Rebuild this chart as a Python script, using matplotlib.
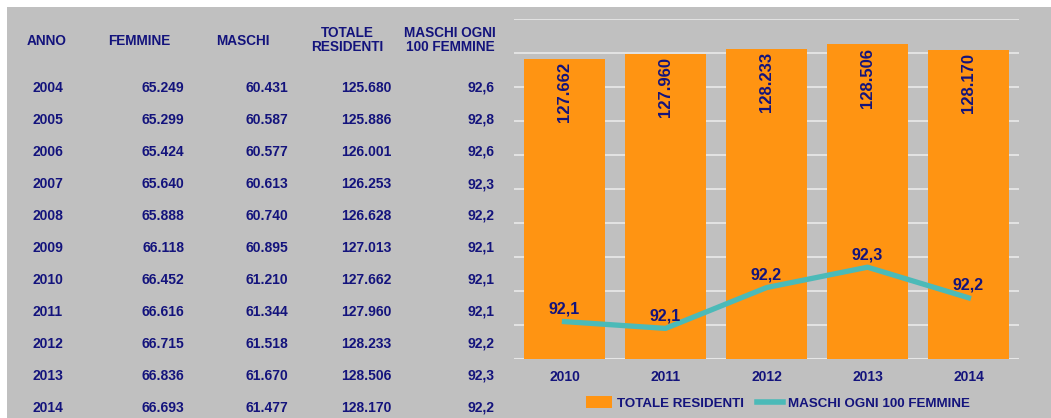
import numpy as np
import matplotlib.pyplot as plt
from matplotlib.patches import Rectangle, Patch
from matplotlib.lines import Line2D

plt.rcParams['font.family'] = ['Liberation Sans', 'DejaVu Sans']

# table data
anni = [2004, 2005, 2006, 2007, 2008, 2009, 2010, 2011, 2012, 2013, 2014]
femmine = [65249, 65299, 65424, 65640, 65888, 66118, 66452, 66616, 66715, 66836, 66693]
maschi = [60431, 60587, 60577, 60613, 60740, 60895, 61210, 61344, 61518, 61670, 61477]
totale = [125680, 125886, 126001, 126253, 126628, 127013, 127662, 127960, 128233, 128506, 128170]
rapporto = [92.6, 92.8, 92.6, 92.3, 92.2, 92.1, 92.1, 92.1, 92.2, 92.3, 92.2]

# chart data
anni_graf = ['2010', '2011', '2012', '2013', '2014']
totale_graf = [127662, 127960, 128233, 128506, 128170]
rapporto_graf = [92.11, 92.09, 92.21, 92.27, 92.18]
rapporto_lbl = ['92,1', '92,1', '92,2', '92,3', '92,2']

navy = '#13137c'
orange = '#ff9412'
teal = '#4bbab8'
gray = '#c0c0c0'

W, H = 1051, 418
fig = plt.figure(figsize=(W / 100, H / 100), dpi=100)
fig.patch.set_facecolor('white')
fig.patches.append(Rectangle((7 / W, 0), 1, 1 - 7 / H, transform=fig.transFigure,
                             facecolor=gray, edgecolor='none', zorder=-1))


def fx(x):
    return x / W


def fy(y):
    return 1 - y / H


def ita(n):
    return f"{n:,}".replace(",", ".")


# table header
hdr = dict(color=navy, fontsize=9.8, fontweight='bold', ha='center', va='center',
           linespacing=1.05)
fig.text(fx(47), fy(41), 'ANNO', **hdr)
fig.text(fx(139), fy(41), 'FEMMINE', **hdr)
fig.text(fx(243), fy(41), 'MASCHI', **hdr)
fig.text(fx(347), fy(40), 'TOTALE\nRESIDENTI', **hdr)
fig.text(fx(450), fy(40), 'MASCHI OGNI\n100 FEMMINE', **hdr)

cell = dict(color=navy, fontsize=10, fontweight='bold', va='center')
for i, a in enumerate(anni):
    y = fy(88 + i * 32)
    fig.text(fx(48), y, str(a), ha='center', **cell)
    fig.text(fx(184), y, ita(femmine[i]), ha='right', **cell)
    fig.text(fx(288), y, ita(maschi[i]), ha='right', **cell)
    fig.text(fx(391), y, ita(totale[i]), ha='right', **cell)
    fig.text(fx(494), y, f"{rapporto[i]:.1f}".replace(".", ","), ha='right', **cell)

# chart
ax = fig.add_axes([fx(514), fy(359), fx(1019) - fx(514), fy(19) - fy(359)])
ax.set_facecolor(gray)
x = np.arange(len(anni_graf))
ax.bar(x, totale_graf, width=0.8, color=orange, zorder=2)
ax.set_ylim(110000, 130000)
ax.set_yticks(np.arange(110000, 130001, 2000))
ax.set_yticklabels([])
ax.tick_params(axis='y', length=0)
ax.tick_params(axis='x', length=0, pad=8)
ax.set_xlim(-0.5, len(x) - 0.5)
ax.set_xticks(x)
ax.set_xticklabels(anni_graf, color=navy, fontsize=10, fontweight='bold')
ax.grid(axis='y', color='#e6e6e6', linewidth=1.3, zorder=0)
for s in ax.spines.values():
    s.set_visible(False)
ax.axhline(110000, color='#e6e6e6', linewidth=1.5, zorder=1)

for xi, v in zip(x, totale_graf):
    ax.annotate(ita(v), (xi, v), xytext=(0, -24), textcoords='offset points',
                rotation=90, ha='center', va='center', color=navy,
                fontsize=12, fontweight='bold', zorder=4)

ax2 = ax.twinx()
ax2.set_ylim(92, 93)
ax2.plot(x, rapporto_graf, color=teal, linewidth=3.8, zorder=3)
ax2.set_yticks([])
for s in ax2.spines.values():
    s.set_visible(False)
for xi, v, l in zip(x, rapporto_graf, rapporto_lbl):
    ax2.annotate(l, (xi, v), xytext=(0, 9), textcoords='offset points',
                 ha='center', va='center', color=navy, fontsize=11.5, fontweight='bold')

handles = [Patch(facecolor=orange, edgecolor='none'),
           Line2D([0], [0], color=teal, linewidth=4)]
fig.legend(handles, ['TOTALE RESIDENTI', 'MASCHI OGNI 100 FEMMINE'],
           loc='center', bbox_to_anchor=(fx(778), fy(403)), ncol=2, frameon=False,
           labelcolor=navy, prop={'weight': 'bold', 'size': 9.6},
           handlelength=1.9, handleheight=0.9, columnspacing=1.0, handletextpad=0.4)

fig.savefig('out.png', dpi=100, facecolor=fig.get_facecolor())
